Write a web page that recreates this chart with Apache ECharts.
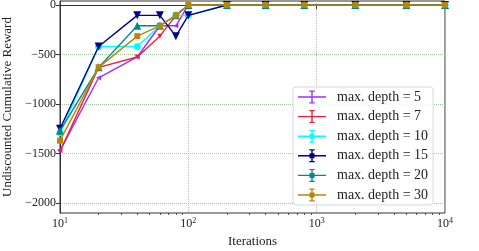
<!DOCTYPE html>
<html><head><meta charset="utf-8">
<script src="https://cdn.jsdelivr.net/npm/echarts@6/dist/echarts.min.js"></script>
<style>html,body{margin:0;padding:0;background:#fff}#c{width:479px;height:251px}</style>
</head><body><div id="c"></div>
<script>
const iterations = [10, 20, 40, 60, 80, 100, 200, 400, 800, 2000, 5000, 10000];
const depth5  = [-1470, -735, -525, -210, -210, 0, 0, 0, 0, 0, 0, 0];
const depth7  = [-1480, -630, -525, -315, -105, 0, 0, 0, 0, 0, 0, 0];
const depth10 = [-1290, -420, -420, -210, -105, -105, 0, 0, 0, 0, 0, 0];
const depth15 = [-1250, -420, -105, -105, -315, -105, 0, 0, 0, 0, 0, 0];
const depth20 = [-1270, -630, -210, -210, -105, 0, 0, 0, 0, 0, 0, 0];
const depth30 = [-1370, -630, -315, -210, -105, 0, 0, 0, 0, 0, 0, 0];
const seriesNames = ['max. depth = 5', 'max. depth = 7', 'max. depth = 10', 'max. depth = 15', 'max. depth = 20', 'max. depth = 30'];
const xTicks = [10, 100, 1000, 10000];
const xMinorTicks = [20,30,40,50,60,70,80,90,200,300,400,500,600,700,800,900,2000,3000,4000,5000,6000,7000,8000,9000];
const yTicks = [-2000, -1500, -1000, -500, 0];

const colors = ['#9b30ff', '#e8203c', '#00ffff', '#00008b', '#008b8b', '#b8860b'];
const FONT = 'Liberation Serif, DejaVu Serif, serif';
const GRIDC = '#9ccc9c';

const base = 'M0 6.3H28V7.7H0Z M13.3 1.2H14.7V12.8H13.3Z M11.3 0.5H16.7V1.7H11.3Z M11.3 12.3H16.7V13.5H11.3Z';
const circ = ' M16.8 7A2.8 2.8 0 1 1 11.2 7A2.8 2.8 0 1 1 16.8 7Z';
const sq = ' M11.5 4.5H16.5V9.5H11.5Z';
const icons = ['path://' + base, 'path://' + base, 'path://' + base + circ, 'path://' + base + sq, 'path://' + base + sq, 'path://' + base + sq];

const datas = [depth5, depth7, depth10, depth15, depth20, depth30];
const syms = [
  {symbol: 'triangle', symbolSize: 5, symbolRotate: 90},
  {symbol: 'triangle', symbolSize: 5, symbolRotate: 180},
  {symbol: 'circle', symbolSize: 7},
  {symbol: 'triangle', symbolSize: 8, symbolRotate: 180},
  {symbol: 'triangle', symbolSize: 8},
  {symbol: 'rect', symbolSize: 6}
];

const series = datas.map((d, i) => Object.assign({
  name: seriesNames[i], type: 'line',
  data: iterations.map((x, j) => [x, d[j]]),
  lineStyle: {width: 1.4, color: colors[i]},
  itemStyle: {color: colors[i]},
  showSymbol: true, z: 3 + i, animation: false
}, syms[i]));

const chart = echarts.init(document.getElementById('c'));
chart.setOption({
  animation: false,
  grid: {left: 60, right: 34, top: 1, bottom: 38, outerBoundsMode: 'none', containLabel: false,
    show: true, borderColor: '#333', borderWidth: 1, backgroundColor: 'transparent'},
  legend: {
    orient: 'vertical', left: 293, top: 87, padding: [3, 5, 3, 5],
    itemWidth: 28, itemHeight: 14, itemGap: 5.6,
    backgroundColor: 'rgba(255,255,255,0.85)', borderColor: '#d8d8d8', borderWidth: 1, borderRadius: 3,
    textStyle: {fontFamily: FONT, fontSize: 14, color: '#222', padding: [0, 0, 0, 6]},
    data: seriesNames.map((n, i) => ({name: n, icon: icons[i]}))
  },
  xAxis: [{
    type: 'log', logBase: 10, min: 10, max: 10000,
    name: 'Iterations', nameLocation: 'middle', nameGap: 18,
    nameTextStyle: {fontFamily: FONT, fontSize: 13, color: '#222'},
    axisLine: {lineStyle: {color: '#333', width: 1}},
    axisTick: {show: true, length: 4, customValues: xTicks, lineStyle: {color: '#333'}},
    axisLabel: {
      customValues: xTicks, margin: 4, color: '#222',
      formatter: v => '{b|10}{s|' + Math.round(Math.log10(v)) + '}',
      rich: {
        b: {fontFamily: FONT, fontSize: 12, color: '#222', lineHeight: 14},
        s: {fontFamily: FONT, fontSize: 8, color: '#222', verticalAlign: 'top', lineHeight: 14}
      }
    },
    splitLine: {show: true, lineStyle: {color: GRIDC, type: [1, 1], width: 1}}
  }, {
    type: 'log', logBase: 10, min: 10, max: 10000, gridIndex: 0, position: 'bottom',
    axisLine: {show: false},
    axisTick: {show: true, length: 2, customValues: xMinorTicks, lineStyle: {color: '#333', width: 0.8}},
    axisLabel: {show: false},
    splitLine: {show: false}
  }],
  yAxis: {
    type: 'value', min: -2100, max: 40,
    name: 'Undiscounted Cumulative Reward', nameLocation: 'middle', nameGap: 37,
    nameTextStyle: {fontFamily: FONT, fontSize: 13, color: '#222'},
    axisLine: {show: true, lineStyle: {color: '#333', width: 1}},
    axisTick: {show: true, length: 4, customValues: yTicks, lineStyle: {color: '#333'}},
    axisLabel: {customValues: yTicks, margin: 4, fontFamily: FONT, fontSize: 12, color: '#222',
      formatter: v => v < 0 ? '\u2212' + (-v) : String(v)},
    splitLine: {show: true, customValues: yTicks, lineStyle: {color: GRIDC, type: [1, 1], width: 1}}
  },
  series: series
});
</script></body></html>
